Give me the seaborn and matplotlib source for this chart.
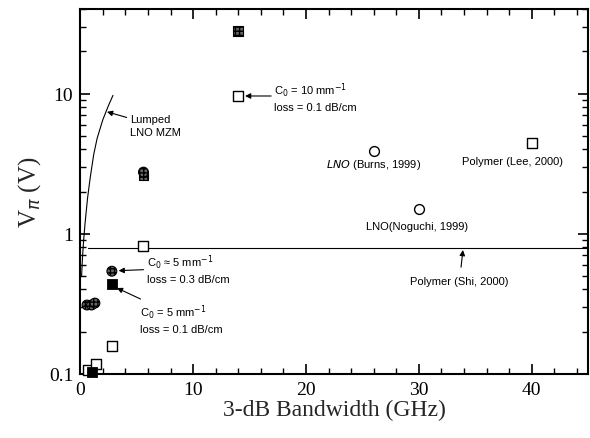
import numpy as np
import pandas as pd
import matplotlib
matplotlib.use("Agg")
import matplotlib.pyplot as plt
import seaborn as sns
from matplotlib.ticker import MultipleLocator, LogLocator, NullFormatter, FixedLocator

# values (bandwidth in GHz, V_pi in V)
open_sq_bw = [0.7, 1.4, 2.8, 5.6, 14.0, 40.0]
open_sq_v = [0.106, 0.118, 0.158, 0.82, 9.6, 4.4]

hatch_sq_bw = [14.0, 5.6]
hatch_sq_v = [28.0, 2.6]

hatch_ci_bw = [0.6, 1.0, 1.3, 2.8, 5.6]
hatch_ci_v = [0.31, 0.31, 0.32, 0.54, 2.75]

black_sq_bw = [2.8, 1.0]
black_sq_v = [0.44, 0.104]

open_ci_bw = [26.0, 30.0]
open_ci_v = [3.9, 1.5]

# lumped LNO MZM curve, traced
lumped_bw = [0.12, 0.2, 0.3, 0.44, 0.65, 0.88, 1.2, 1.5, 2.0, 2.5, 2.9]
lumped_v = [0.5, 0.68, 0.9, 1.22, 1.8, 2.5, 3.7, 4.8, 6.5, 8.2, 9.7]

# Polymer (Shi, 2000) level
shi_bw = [0.7, 45.0]
shi_v = [0.79, 0.79]

sns.set_theme(style="ticks")
plt.rcParams["font.family"] = ["Liberation Serif", "DejaVu Serif"]

fig = plt.figure(figsize=(5.9, 4.39), dpi=100)
ax = fig.add_axes([0.136, 0.146, 0.861, 0.831])

sns.lineplot(x=lumped_bw, y=lumped_v, color="black", lw=0.8, ax=ax)
sns.lineplot(x=shi_bw, y=shi_v, color="black", lw=0.8, ax=ax)

sns.scatterplot(x=open_sq_bw, y=open_sq_v, marker="s", s=55, facecolor="white",
                edgecolor="black", linewidth=1.0, ax=ax, zorder=3, clip_on=False)
sns.scatterplot(x=open_ci_bw, y=open_ci_v, marker="o", s=50, facecolor="white",
                edgecolor="black", linewidth=1.0, ax=ax, zorder=3)
sns.scatterplot(x=black_sq_bw, y=black_sq_v, marker="s", s=55, color="black",
                edgecolor="black", ax=ax, zorder=4, clip_on=False)
ax.scatter(hatch_sq_bw, hatch_sq_v, marker="s", s=50, facecolor="#666666",
           edgecolor="black", linewidth=0.8, hatch="++++", zorder=3)
ax.scatter(hatch_ci_bw, hatch_ci_v, marker="o", s=50, facecolor="#666666",
           edgecolor="black", linewidth=0.8, hatch="++++", zorder=3)

ax.set_yscale("log")
ax.set_xlim(0, 45)
ax.set_ylim(0.1, 40)

ax.xaxis.set_major_locator(FixedLocator([0, 10, 20, 30, 40]))
ax.xaxis.set_minor_locator(MultipleLocator(2))
ax.yaxis.set_major_locator(FixedLocator([0.1, 1, 10]))
ax.yaxis.set_minor_locator(LogLocator(base=10, subs=np.arange(2, 10)))
ax.yaxis.set_minor_formatter(NullFormatter())
ax.set_yticklabels(["0.1", "1", "10"])

ax.tick_params(which="both", direction="in", top=True, right=True,
               labelsize=14, colors="black", pad=5)
ax.tick_params(which="major", length=7, width=1.2)
ax.tick_params(which="minor", length=4, width=1.0)
for sp in ax.spines.values():
    sp.set_linewidth(1.5)
    sp.set_color("black")

ax.set_xlabel("3-dB Bandwidth (GHz)", fontsize=17, labelpad=1)
ax.set_ylabel(r"V$_\pi$ (V)", fontsize=18, labelpad=4)

sans = dict(family=["Liberation Sans", "DejaVu Sans"], fontsize=8, color="black")
arrow = dict(arrowstyle="-|>", color="black", lw=0.8, mutation_scale=8,
             shrinkA=0, shrinkB=0)

ax.annotate("Lumped\nLNO MZM", xy=(2.37, 7.4), xytext=(4.4, 5.9),
            ha="left", va="center", arrowprops=arrow, linespacing=1.3, **sans)
ax.annotate("C$_0$ = 10 mm$^{-1}$\nloss = 0.1 dB/cm", xy=(14.6, 9.6), xytext=(17.2, 9.6),
            ha="left", va="center", arrowprops=arrow, linespacing=1.4, **sans)
ax.annotate("C$_0$ \u2248 5 mm$^{-1}$\nloss = 0.3 dB/cm", xy=(3.4, 0.545), xytext=(5.9, 0.57),
            ha="left", va="center", arrowprops=arrow, linespacing=1.4, **sans)
ax.annotate("C$_0$ = 5 mm$^{-1}$\nloss = 0.1 dB/cm", xy=(3.25, 0.41), xytext=(5.3, 0.25),
            ha="left", va="center", arrowprops=arrow, linespacing=1.4, **sans)
ax.annotate("Polymer (Shi, 2000)", xy=(33.9, 0.765), xytext=(33.6, 0.46),
            ha="center", va="center",
            arrowprops=dict(arrow, shrinkA=4), **sans)

ax.text(26.0, 3.15, "$\\it{LNO}$ (Burns, 1999)", ha="center", va="center", **sans)
ax.text(38.3, 3.3, "Polymer (Lee, 2000)", ha="center", va="center", **sans)
ax.text(29.8, 1.14, "LNO(Noguchi, 1999)", ha="center", va="center", **sans)

fig.savefig("out.png", dpi=100)
